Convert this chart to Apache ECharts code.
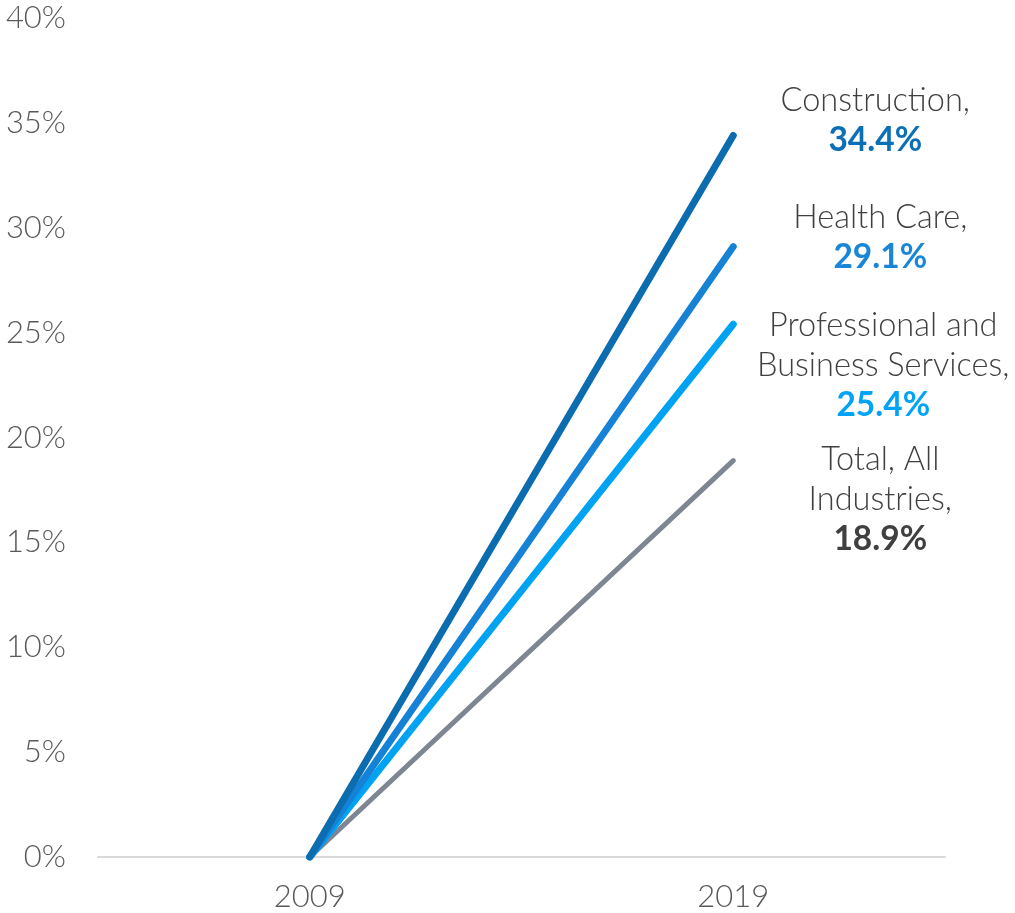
<!DOCTYPE html>
<html>
<head>
<meta charset="utf-8">
<style>
  html, body { margin: 0; padding: 0; background: #fff; }
  #growthChart { width: 1015px; height: 913px; }
</style>
<script src="https://cdn.jsdelivr.net/npm/echarts@6/dist/echarts.min.js"></script>
</head>
<body>
<div id="growthChart"></div>
<script>
  // data
  const years = ['2009', '2019'];
  const construction = [0, 34.4];
  const healthCare = [0, 29.1];
  const professional = [0, 25.4];
  const totalAll = [0, 18.9];
  const seriesNames = ['Construction,', 'Health Care,', 'Professional and\nBusiness Services,', 'Total, All\nIndustries,'];

  const labelFont = 'Lato, "Noto Sans", sans-serif';

  function endLabel(name, color, offset) {
    return {
      show: true,
      align: 'center',
      verticalAlign: 'middle',
      offset: offset,
      distance: 0,
      lineHeight: 40,
      formatter: function (p) {
        const lines = name.split('\n').map(function (t) { return '{n|' + t + '}'; });
        return lines.join('\n') + '\n{v|' + p.value.toFixed(1) + '%}';
      },
      rich: {
        n: { fontFamily: labelFont, fontWeight: 300, fontSize: 32.5, color: '#404040', lineHeight: 40, align: 'center' },
        v: { fontFamily: labelFont, fontWeight: 'bold', fontSize: 33.5, color: color, lineHeight: 40, align: 'center' }
      }
    };
  }

  function lineSeries(name, data, color, width, valueColor, offset) {
    return {
      name: name,
      type: 'line',
      data: data,
      showSymbol: false,
      symbol: 'none',
      lineStyle: { color: color, width: width, cap: 'round' },
      endLabel: endLabel(name, valueColor, offset),
      animation: false
    };
  }

  const chart = echarts.init(document.getElementById('growthChart'));
  chart.setOption({
    animation: false,
    grid: { left: 98, right: 70, top: 18, bottom: 56 },
    xAxis: {
      type: 'category',
      data: years,
      boundaryGap: true,
      axisLine: { lineStyle: { color: '#d9d9d9', width: 2 } },
      axisTick: { show: false },
      axisLabel: { color: '#595959', fontFamily: labelFont, fontWeight: 300, fontSize: 31, margin: 24 }
    },
    yAxis: {
      type: 'value',
      min: 0,
      max: 40,
      interval: 5,
      axisLine: { show: false },
      axisTick: { show: false },
      splitLine: { show: false },
      axisLabel: {
        color: '#595959', fontFamily: labelFont, fontWeight: 300, fontSize: 31, margin: 32,
        formatter: '{value}%'
      }
    },
    series: [
      lineSeries(seriesNames[3], totalAll, '#7d8692', 5, '#404040', [147, 39]),
      lineSeries(seriesNames[2], professional, '#00a2f2', 7, '#00a3f5', [150, 41]),
      lineSeries(seriesNames[1], healthCare, '#1582d6', 7, '#1a86d8', [147, -9]),
      lineSeries(seriesNames[0], construction, '#0b6cb0', 7, '#0b6fb8', [142, -15])
    ]
  });
</script>
</body>
</html>
